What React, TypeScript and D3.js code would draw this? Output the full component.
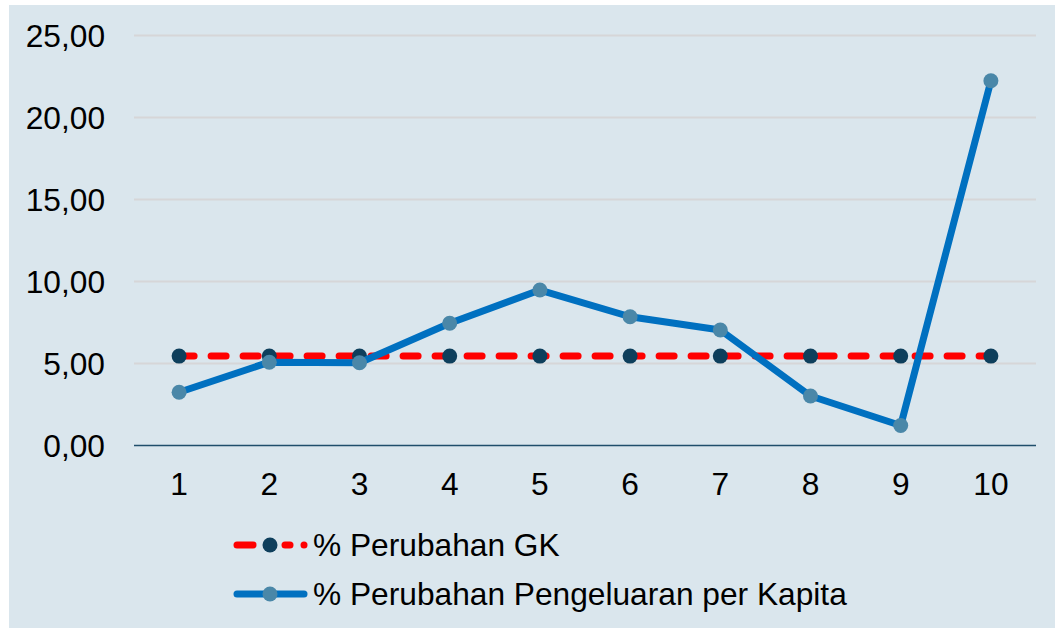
import React from "react";
import * as d3 from "d3";

const categories = ["1", "2", "3", "4", "5", "6", "7", "8", "9", "10"];
const perubahanGK = [5.45, 5.45, 5.45, 5.45, 5.45, 5.45, 5.45, 5.45, 5.45, 5.45];
const perubahanPengeluaran = [3.25, 5.08, 5.05, 7.45, 9.48, 7.85, 7.04, 3.02, 1.22, 22.24];
const yTicks = [0, 5, 10, 15, 20, 25];
const seriesNames = ["% Perubahan GK", "% Perubahan Pengeluaran per Kapita"];

const W = 1055;
const H = 628;
const FONT = "'Liberation Sans', Arial, sans-serif";
const FS = 31.7;

export default function App() {
  const x = d3.scaleBand<string>().domain(categories).range([134, 1036]);
  const y = d3.scaleLinear().domain([0, 25]).range([445.5, 35.5]);
  const cx = (c: string) => (x(c) as number) + x.bandwidth() / 2;

  const line = d3
    .line<number>()
    .x((_, i) => cx(categories[i]))
    .y((d) => y(d));

  const fmt = (v: number) => v.toFixed(2).replace(".", ",");

  return (
    <svg
      width={W}
      height={H}
      style={{ position: "absolute", left: 0, top: 0 }}
      fontFamily={FONT}
    >
      <rect x={0} y={0} width={W} height={H} fill="#ffffff" />
      <rect x={9} y={5} width={W - 9} height={H - 5} fill="#dae6ed" />

      {/* gridlines */}
      {yTicks.slice(1).map((t) => (
        <line key={t} x1={134} x2={1036} y1={y(t)} y2={y(t)} stroke="#d6d6d8" strokeWidth={1.8} />
      ))}
      {/* y labels */}
      {yTicks.map((t) => (
        <text key={t} x={105} y={y(t)} dy="0.36em" textAnchor="end" fontSize={FS} fill="#000">
          {fmt(t)}
        </text>
      ))}
      {/* x axis */}
      <line x1={134} x2={1036} y1={y(0)} y2={y(0)} stroke="#1f4e6b" strokeWidth={1.5} />
      {categories.map((c) => (
        <text key={c} x={cx(c)} y={495} textAnchor="middle" fontSize={FS} fill="#000">
          {c}
        </text>
      ))}

      {/* GK series */}
      <path
        d={line(perubahanGK) ?? ""}
        fill="none"
        stroke="#ff0000"
        strokeWidth={7}
        strokeDasharray="15 17"
        strokeLinecap="round"
      />
      {perubahanGK.map((v, i) => (
        <circle key={i} cx={cx(categories[i])} cy={y(v)} r={7.5} fill="#0e3f5c" />
      ))}

      {/* Pengeluaran series */}
      <path
        d={line(perubahanPengeluaran) ?? ""}
        fill="none"
        stroke="#0070c0"
        strokeWidth={7}
        strokeLinejoin="round"
      />
      {perubahanPengeluaran.map((v, i) => (
        <circle key={i} cx={cx(categories[i])} cy={y(v)} r={7.5} fill="#4a87a8" />
      ))}

      {/* legend */}
      <g>
        <line x1={237} x2={253} y1={545} y2={545} stroke="#ff0000" strokeWidth={7} strokeLinecap="round" />
        <line x1={285} x2={290} y1={545} y2={545} stroke="#ff0000" strokeWidth={7} strokeLinecap="round" />
        <circle cx={304} cy={545} r={3.5} fill="#ff0000" />
        <circle cx={270} cy={545} r={7.5} fill="#0e3f5c" />
        <text x={313} y={545} dy="0.36em" fontSize={FS} fill="#000">
          {seriesNames[0]}
        </text>

        <line x1={237} x2={304} y1={594} y2={594} stroke="#0070c0" strokeWidth={7} strokeLinecap="round" />
        <circle cx={270} cy={594} r={7.5} fill="#4a87a8" />
        <text x={313} y={594} dy="0.36em" fontSize={FS} fill="#000">
          {seriesNames[1]}
        </text>
      </g>
    </svg>
  );
}
